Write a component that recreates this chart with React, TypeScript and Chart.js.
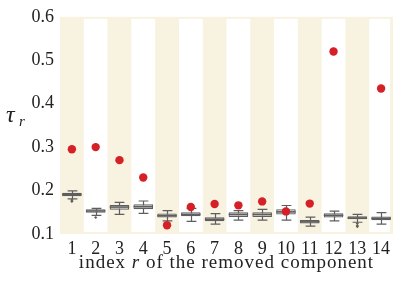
import React, { useEffect, useRef } from "react";
import { Chart, registerables } from "chart.js";

Chart.register(...registerables);

const categories = ["1", "2", "3", "4", "5", "6", "7", "8", "9", "10", "11", "12", "13", "14"];
const whiskerLow = [0.181, 0.143, 0.145, 0.1475, 0.13, 0.129, 0.1226, 0.132, 0.132, 0.132, 0.118, 0.13, 0.127, 0.1226];
const q1 = [0.187, 0.149, 0.156, 0.157, 0.138, 0.141, 0.1294, 0.139, 0.139, 0.145, 0.124, 0.138, 0.134, 0.1317];
const medians = [0.191, 0.153, 0.162, 0.163, 0.142, 0.145, 0.134, 0.145, 0.145, 0.151, 0.128, 0.143, 0.137, 0.136];
const q3 = [0.195, 0.157, 0.167, 0.1685, 0.147, 0.15, 0.1385, 0.15, 0.15, 0.157, 0.132, 0.1475, 0.1407, 0.14];
const whiskerHigh = [0.1995, 0.159, 0.173, 0.176, 0.154, 0.159, 0.147, 0.1536, 0.1566, 0.1656, 0.139, 0.1527, 0.145, 0.149];
const outliers: [string, number][] = [
  ["1", 0.178],
  ["1", 0.175],
  ["2", 0.138],
  ["13", 0.124],
  ["13", 0.119],
  ["13", 0.117],
];
const redValues: (number | null)[] = [0.295, 0.3, 0.27, 0.23, 0.12, 0.162, 0.169, 0.166, 0.175, 0.152, 0.17, 0.52, null, 0.435];
const yTicks = [0.1, 0.2, 0.3, 0.4, 0.5, 0.6];

const FONT = "'Liberation Serif', 'DejaVu Serif', serif";
const BEIGE = "#f8f2e0";
const EDGE = "#5e5e5e";
const BOXFILL = "#c6c6c6";
const RED = "#d62027";

const bgPlugin = {
  id: "bands",
  beforeDatasetsDraw(chart: any) {
    const { ctx, chartArea, scales } = chart;
    const x = scales.x;
    ctx.save();
    ctx.fillStyle = BEIGE;
    ctx.fillRect(chartArea.left, chartArea.top, chartArea.right - chartArea.left, chartArea.bottom - chartArea.top);
    ctx.fillStyle = "#ffffff";
    const w = (chartArea.right - chartArea.left) / categories.length;
    categories.forEach((c, i) => {
      if (i % 2 === 1) {
        const cx = x.getPixelForValue(i);
        const right = Math.min(cx + w / 2, chartArea.right - 3);
        ctx.fillRect(cx - w / 2, chartArea.top + 2, right - (cx - w / 2), chartArea.bottom - chartArea.top - 4);
      }
    });
    ctx.restore();
  },
};

const boxPlugin = {
  id: "boxparts",
  beforeDatasetDraw(chart: any, args: any) {
    if (args.index !== 0) return;
    const { ctx, scales } = chart;
    const x = scales.x;
    const y = scales.y;
    const w = (chart.chartArea.right - chart.chartArea.left) / categories.length;
    const capHalf = w * 0.82 * 0.25;
    ctx.save();
    ctx.strokeStyle = EDGE;
    ctx.lineWidth = 1.2;
    categories.forEach((c, i) => {
      const cx = Math.round(x.getPixelForValue(i)) + 0.5;
      const yLo = y.getPixelForValue(whiskerLow[i]);
      const yHi = y.getPixelForValue(whiskerHigh[i]);
      ctx.beginPath();
      ctx.moveTo(cx, yLo);
      ctx.lineTo(cx, yHi);
      ctx.moveTo(cx - capHalf, yLo);
      ctx.lineTo(cx + capHalf, yLo);
      ctx.moveTo(cx - capHalf, yHi);
      ctx.lineTo(cx + capHalf, yHi);
      ctx.stroke();
    });
    ctx.restore();
  },
  afterDatasetDraw(chart: any, args: any) {
    if (args.index !== 0) return;
    const { ctx, scales } = chart;
    const x = scales.x;
    const y = scales.y;
    const w = (chart.chartArea.right - chart.chartArea.left) / categories.length;
    const half = (w * 0.82) / 2;
    ctx.save();
    ctx.strokeStyle = EDGE;
    ctx.lineWidth = 1.5;
    categories.forEach((c, i) => {
      const cx = x.getPixelForValue(i);
      const ym = y.getPixelForValue(medians[i]);
      ctx.beginPath();
      ctx.moveTo(cx - half, ym);
      ctx.lineTo(cx + half, ym);
      ctx.stroke();
    });
    ctx.restore();
  },
};

const labelPlugin = {
  id: "labels",
  afterDraw(chart: any) {
    const { ctx, chartArea } = chart;
    ctx.save();
    ctx.fillStyle = "#222";
    ctx.textBaseline = "alphabetic";
    // y label tau_r
    ctx.textAlign = "left";
    ctx.font = `italic 24px ${FONT}`;
    ctx.fillText("τ", 6, 122);
    ctx.font = `italic 15px ${FONT}`;
    ctx.fillText("r", 19, 126);
    // x label with italic r
    const parts: [string, boolean][] = [
      ["index ", false],
      ["r", true],
      [" of the removed component", false],
    ];
    const size = 19;
    (ctx as any).letterSpacing = "1px";
    let total = 0;
    parts.forEach(([t, it]) => {
      ctx.font = `${it ? "italic " : ""}${size}px ${FONT}`;
      total += ctx.measureText(t).width;
    });
    let px = (chartArea.left + chartArea.right) / 2 - total / 2;
    parts.forEach(([t, it]) => {
      ctx.font = `${it ? "italic " : ""}${size}px ${FONT}`;
      ctx.fillText(t, px, 268);
      px += ctx.measureText(t).width;
    });
    ctx.restore();
  },
};

export default function App() {
  const ref = useRef<HTMLCanvasElement | null>(null);
  useEffect(() => {
    if (!ref.current) return;
    const chart = new Chart(ref.current, {
      type: "bar",
      data: {
        labels: categories,
        datasets: [
          {
            type: "bar",
            data: categories.map((c, i) => [q1[i], q3[i]]) as any,
            backgroundColor: BOXFILL,
            borderColor: EDGE,
            borderWidth: 1.2,
            borderSkipped: false,
            barPercentage: 0.82,
            categoryPercentage: 1,
            grouped: false,
            order: 3,
          } as any,
          {
            type: "line",
            data: outliers.map(([c, v]) => ({ x: c, y: v })) as any,
            showLine: false,
            pointStyle: "rectRot",
            pointRadius: 1.6,
            pointBackgroundColor: EDGE,
            pointBorderColor: EDGE,
            pointBorderWidth: 0,
            order: 2,
          } as any,
          {
            type: "line",
            data: redValues as any,
            showLine: false,
            pointRadius: 4.2,
            pointBackgroundColor: RED,
            pointBorderColor: RED,
            pointBorderWidth: 0,
            order: 1,
          } as any,
        ],
      },
      options: {
        animation: false,
        responsive: false,
        maintainAspectRatio: false,
        layout: { padding: { top: 13, right: 6, left: 0, bottom: 0 } },
        plugins: { legend: { display: false }, tooltip: { enabled: false } },
        scales: {
          x: {
            type: "category",
            offset: true,
            grid: { display: false, drawTicks: false },
            border: { display: false },
            ticks: { font: { family: FONT, size: 18 }, color: "#222", padding: 4, maxRotation: 0, autoSkip: false },
            afterFit: (s: any) => {
              s.height = 51;
            },
          },
          y: {
            min: 0.1,
            max: 0.6,
            grid: { display: false, drawTicks: false },
            border: { display: false },
            afterBuildTicks: (s: any) => {
              s.ticks = yTicks.map((v) => ({ value: v }));
            },
            ticks: {
              font: { family: FONT, size: 18 },
              color: "#222",
              padding: 6,
              callback: (v: any) => Number(v).toFixed(1),
            },
            afterFit: (s: any) => {
              s.width = 60;
            },
          },
        },
      } as any,
      plugins: [bgPlugin, boxPlugin, labelPlugin],
    });
    return () => chart.destroy();
  }, []);
  return (
    <div style={{ position: "absolute", left: 0, top: 0, width: 399, height: 285, background: "#fff" }}>
      <canvas ref={ref} width={399} height={285} style={{ width: 399, height: 285 }} />
    </div>
  );
}
